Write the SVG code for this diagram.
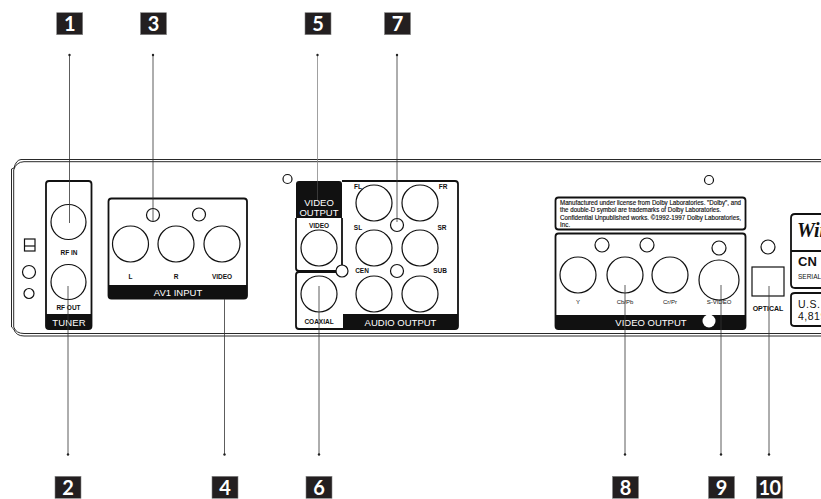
<svg xmlns="http://www.w3.org/2000/svg" width="821" height="499" viewBox="0 0 821 499">
<style>
text{font-family:"Liberation Sans",Arial,sans-serif;fill:#111}
.b{fill:#231f20;stroke:#888;stroke-width:.6}
.n{font-family:Lato,"Noto Sans",sans-serif;font-weight:700;font-size:20px;fill:#fff;text-anchor:middle}
.o{fill:none;stroke:#111;stroke-width:1.2}
.t{fill:none;stroke:#111;stroke-width:.9}
.box{fill:none;stroke:#111;stroke-width:1.8}
.k{fill:#111}
.l{font-size:6.500px;font-weight:700;text-anchor:middle}
.s{font-size:6px;text-anchor:middle}
.w{font-size:9.500px;fill:#fff;text-anchor:middle}
.f{font-size:6.300px;stroke:#111;stroke-width:.15}
.c{stroke:#333;stroke-width:.8;fill:none}
.d{fill:#222}
</style>
<rect width="821" height="499" fill="#fff"/>
<g id="chassis">
<path class="t" d="M821 159.500H21Q16 160 14 168L11.500 169V327L13.700 329Q16 336 24 336H821"/>
<path class="t" d="M821 161.700H24Q16 162 13.700 170V327Q16 333.500 24 333.500H821"/>
<rect class="o" x="24.500" y="239" width="10.500" height="12"/><path class="o" d="M24.500 246H35"/>
<circle class="o" cx="29" cy="272" r="6.500"/><circle class="o" cx="29" cy="293.500" r="5"/>
<circle class="o" cx="287.500" cy="179" r="4.500"/><circle class="o" cx="709" cy="180" r="4.500"/>
</g>
<g id="tuner">
<rect class="box" x="46" y="181" width="45.500" height="148" rx="3"/>
<path class="k" d="M46 314H91.500V326Q91.500 329 88.500 329H49Q46 329 46 326Z"/>
<circle class="o" cx="68.500" cy="222" r="17.500"/><circle class="o" cx="68.500" cy="282" r="17.500"/>
<text class="l" x="69" y="255">RF IN</text><text class="l" x="68.500" y="309.500">RF OUT</text>
<text class="w" x="69" y="325.500" style="letter-spacing:.2px">TUNER</text>
</g>
<g id="av1-input">
<rect class="box" x="108.500" y="198.500" width="138.500" height="100" rx="3"/>
<path class="k" d="M108.500 285H247V295.500Q247 298.500 244 298.500H111.500Q108.500 298.500 108.500 295.500Z"/>
<circle class="o" cx="130.500" cy="244" r="18"/><circle class="o" cx="176" cy="244" r="18"/><circle class="o" cx="222" cy="244" r="18"/>
<circle class="o" cx="153" cy="215" r="6.500"/><circle class="o" cx="199" cy="214.500" r="6.500"/>
<text class="l" x="130.500" y="279">L</text><text class="l" x="176" y="279">R</text><text class="l" x="222" y="279">VIDEO</text>
<text class="w" x="178" y="295.500">AV1 INPUT</text>
</g>
<g id="video-output-1">
<path class="k" d="M296 218V184Q296 181 299 181H339Q342 181 342 184V218Z"/>
<path class="box" d="M296 218V268Q296 271 299 271H339Q342 271 342 268V218"/>
<circle class="o" cx="319" cy="248" r="18"/>
<text class="w" x="319" y="206">VIDEO</text><text class="w" x="319" y="215.500">OUTPUT</text>
<text class="l" x="319" y="227.500">VIDEO</text>
</g>
<g id="coaxial">
<path class="box" d="M343 329H299Q296 329 296 326V275Q296 272 299 272H336"/>
<circle class="o" cx="319" cy="294" r="18"/>
<text class="l" x="319" y="323.500">COAXIAL</text>
</g>
<g id="audio-output">
<path class="box" d="M342 181H455Q458 181 458 184V326Q458 329 455 329H343"/>
<path class="k" d="M343 314H458V326Q458 329 455 329H343Z"/>
<circle class="o" cx="374" cy="203" r="18"/><circle class="o" cx="420" cy="203" r="18"/>
<circle class="o" cx="374" cy="248" r="18"/><circle class="o" cx="420" cy="248" r="18"/>
<circle class="o" cx="374" cy="294" r="18"/><circle class="o" cx="420" cy="294" r="18"/>
<circle class="o" cx="397" cy="225" r="6.500"/><circle class="o" cx="397" cy="271" r="6.500"/>
<circle cx="342" cy="271" r="6" fill="#fff" stroke="#111" stroke-width="1.200"/>
<text class="l" x="358" y="189">FL</text><text class="l" x="443" y="189">FR</text>
<text class="l" x="358" y="230">SL</text><text class="l" x="442" y="230">SR</text>
<text class="l" x="362" y="273">CEN</text><text class="l" x="440" y="273">SUB</text>
<text class="w" x="400.500" y="325.500">AUDIO OUTPUT</text>
</g>
<g id="dolby-notice">
<rect class="box" x="555.500" y="197.500" width="190" height="32" rx="3"/>
<text class="f" x="560" y="204.500" textLength="181" lengthAdjust="spacingAndGlyphs">Manufactured under license from Dolby Laboratories. "Dolby", and</text>
<text class="f" x="560" y="212" textLength="161" lengthAdjust="spacingAndGlyphs">the double-D symbol are trademarks of Dolby Laboratories.</text>
<text class="f" x="560" y="219.500" textLength="181" lengthAdjust="spacingAndGlyphs">Confidential Unpublished works. ©1992-1997 Dolby Laboratories,</text>
<text class="f" x="560" y="226.700">Inc.</text>
</g>
<g id="video-output-2">
<rect class="box" x="555.500" y="233.500" width="190" height="95.500" rx="3"/>
<path class="k" d="M555.500 315H745.500V326Q745.500 329 742.500 329H558.500Q555.500 329 555.500 326Z"/>
<circle class="o" cx="578" cy="275" r="18"/><circle class="o" cx="625" cy="275" r="18"/><circle class="o" cx="670" cy="275" r="18"/><circle class="o" cx="719" cy="280" r="20"/>
<circle class="o" cx="602" cy="245" r="7"/><circle class="o" cx="647" cy="245" r="7"/><circle class="o" cx="719" cy="248" r="7"/>
<circle cx="709" cy="321" r="6.500" fill="#fff"/>
<text class="s" x="578" y="304">Y</text><text class="s" x="625" y="304">Cb/Pb</text><text class="s" x="670" y="304">Cr/Pr</text><text class="s" x="719" y="304">S-VIDEO</text>
<text class="w" x="651" y="325.500">VIDEO OUTPUT</text>
</g>
<g id="optical">
<circle class="o" cx="768" cy="247" r="7"/>
<rect class="o" x="752" y="267" width="32" height="29"/>
<text class="l" x="768" y="310.500" style="font-size:7px">OPTICAL</text>
</g>
<g id="label-plates">
<path class="box" d="M821 214H795Q791 214 791 218V284Q791 288 795 288H821M791 251H821M821 293H795Q791 293 791 296V323Q791 326 795 326H821"/>
<text x="797" y="237" style="font-family:'Liberation Serif',serif;font-weight:700;font-style:italic;font-size:20px">Win</text>
<text x="798" y="266" style="font-weight:700;font-size:13px">CN</text>
<text x="798" y="279" style="font-size:6.500px">SERIAL</text>
<text x="798" y="308" style="font-size:10.500px;letter-spacing:.5px">U.S.</text>
<text x="798" y="320" style="font-size:10.500px;letter-spacing:.5px">4,819</text>
</g>
<g id="connectors">
<path class="c" d="M69.500 55V223M153 55V222M397 55V222M68 454V286M224.500 454V299M319 454V286M625 454V285M721 454V285M769 454V286"/>
<path class="c" d="M317.500 55V181" style="stroke:#888"/>
<path class="c" d="M317.500 181V200" style="stroke:#444"/>
<circle class="d" cx="69.500" cy="55" r="1.200"/><circle class="d" cx="153" cy="55" r="1.200"/><circle class="d" cx="317.500" cy="55" r="1.200"/><circle class="d" cx="397" cy="55" r="1.200"/>
<circle class="d" cx="68" cy="454.500" r="1.200"/><circle class="d" cx="224.500" cy="454.500" r="1.200"/><circle class="d" cx="319" cy="454.500" r="1.200"/><circle class="d" cx="625" cy="454.500" r="1.200"/><circle class="d" cx="721" cy="454.500" r="1.200"/><circle class="d" cx="769" cy="454.500" r="1.200"/>
</g>
<g id="badge-1"><rect class="b" x="56.700" y="12.700" width="26" height="22"/><text class="n" x="69.700" y="31">1</text></g>
<g id="badge-3"><rect class="b" x="140.500" y="12.700" width="26" height="22"/><text class="n" x="153.500" y="31">3</text></g>
<g id="badge-5"><rect class="b" x="305" y="12.700" width="26" height="22"/><text class="n" x="318" y="31">5</text></g>
<g id="badge-7"><rect class="b" x="384.500" y="12.700" width="26" height="22"/><text class="n" x="397.500" y="31">7</text></g>
<g id="badge-2"><rect class="b" x="55" y="476.300" width="26" height="22"/><text class="n" x="68" y="494.500">2</text></g>
<g id="badge-4"><rect class="b" x="212" y="476.300" width="26" height="22"/><text class="n" x="225" y="494.500">4</text></g>
<g id="badge-6"><rect class="b" x="306" y="476.300" width="26" height="22"/><text class="n" x="319" y="494.500">6</text></g>
<g id="badge-8"><rect class="b" x="612.500" y="476.300" width="26" height="22"/><text class="n" x="625.500" y="494.500">8</text></g>
<g id="badge-9"><rect class="b" x="708.500" y="476.300" width="26" height="22"/><text class="n" x="721.500" y="494.500">9</text></g>
<g id="badge-10"><rect class="b" x="756.500" y="476.300" width="26" height="22"/><text class="n" x="769.500" y="494.500" style="letter-spacing:-.5px">10</text></g>
</svg>
